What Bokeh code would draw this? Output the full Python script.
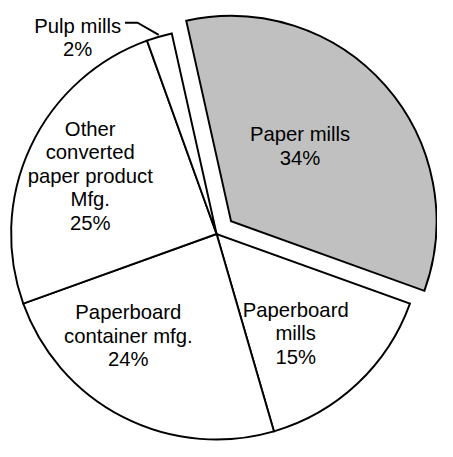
import numpy as np
from bokeh.plotting import figure
from bokeh.models import Range1d, ColumnDataSource
from bokeh.core.properties import value
from bokeh.embed import file_html
from bokeh.resources import INLINE

# ---- data ----
categories = ["Paper mills", "Paperboard mills", "Paperboard container mfg.",
              "Other converted paper product Mfg.", "Pulp mills"]
shares = [34, 15, 24, 25, 2]
pct_labels = ["34%", "15%", "24%", "25%", "2%"]
label_lines = [["Paper mills"], ["Paperboard", "mills"], ["Paperboard", "container mfg."],
               ["Other", "converted", "paper product", "Mfg."], ["Pulp mills"]]

# ---- layout (reference pixel coordinates, y measured downward) ----
W, H = 437, 441
REF_W, REF_H = 453, 457
SCALE = W / REF_W
def Y(py):
    return REF_H - py

CX, CY = 224.0, Y(242.0)
R = 213.0
START_DEG = 102.6
explode = [20, 0, 0, 0, 0]
fills = ["#C0C0C0", "#FFFFFF", "#FFFFFF", "#FFFFFF", "#FFFFFF"]
label_x = [310.5, 306, 132.5, 93, 80]
label_first_base = [138, 321, 323, 133, 26]
line_gap = [25, 24, 24.3, 24.3, 24]

p = figure(width=W, height=H, x_range=Range1d(0, REF_W), y_range=Range1d(0, REF_H),
           output_backend="svg", toolbar_location=None, min_border=0)
p.axis.visible = False
p.grid.visible = False
p.outline_line_color = None
p.background_fill_color = "white"
p.border_fill_color = "white"

fr = np.array(shares, dtype=float) / sum(shares)
cum = np.concatenate([[0], np.cumsum(fr)])
ends = np.radians(START_DEG - cum[:-1] * 360)
starts = np.radians(START_DEG - cum[1:] * 360)
mids = (starts + ends) / 2
ex = np.array(explode, dtype=float)
xs = CX + ex * np.cos(mids)
ys = CY + ex * np.sin(mids)

lw = 2 * SCALE
src = ColumnDataSource(dict(x=xs, y=ys, start=starts, end=ends, fill=fills, cat=categories))
p.wedge(x="x", y="y", radius=R, start_angle="start", end_angle="end", direction="anticlock",
        fill_color="fill", line_color="black", line_width=lw, line_join="miter", source=src)

# labels
tx, ty, tt = [], [], []
for i in range(len(categories)):
    lines = label_lines[i] + [pct_labels[i]]
    for k, s in enumerate(lines):
        tx.append(label_x[i])
        ty.append(Y(label_first_base[i] + k * line_gap[i]))
        tt.append(s)
p.text(x=tx, y=ty, text=tt, text_font=value("Liberation Sans"),
       text_font_size=f"{21 * SCALE:.1f}px",
       text_align="center", text_baseline="alphabetic", text_color="black")

# leader line for Pulp mills
pm = mids[4]
lx_end = xs[4] + (R + 2) * np.cos(pm)
ly_end = ys[4] + (R + 2) * np.sin(pm)
p.line(x=[129, 142, lx_end], y=[Y(23), Y(23), ly_end], line_color="black", line_width=lw,
       line_join="miter")

open("out.html", "w").write(file_html(p, INLINE))
